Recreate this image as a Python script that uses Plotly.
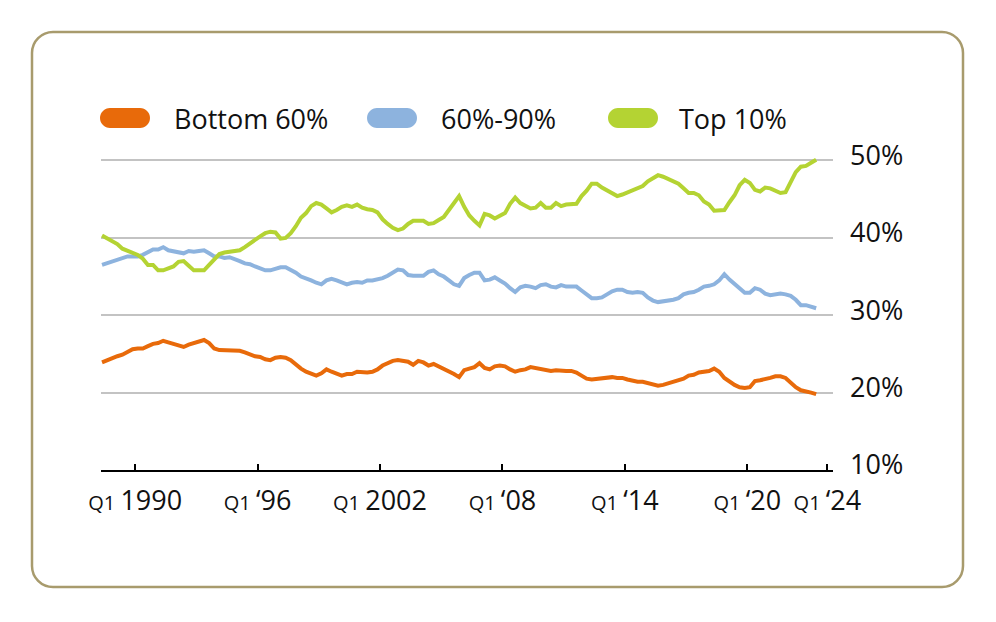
import plotly.graph_objects as go

# Wealth share by percentile group, quarterly, in percent
bottom_60 = [
    23.9, 24.2, 24.4, 24.7, 24.9, 25.2, 25.6, 25.7, 25.7, 26.0,
    26.3, 26.4, 26.7, 26.5, 26.3, 26.1, 25.9, 26.2, 26.4, 26.6,
    26.8, 26.4, 25.7, 25.5, 25.5, 25.4, 25.5, 25.4, 25.2, 24.9,
    24.7, 24.6, 24.3, 24.2, 24.5, 24.6, 24.5, 24.2, 23.6, 23.1,
    22.7, 22.4, 22.2, 22.5, 23.0, 22.7, 22.4, 22.2, 22.4, 22.4,
    22.7, 22.6, 22.6, 22.7, 23.0, 23.5, 23.8, 24.1, 24.2, 24.1,
    24.0, 23.6, 24.1, 23.9, 23.5, 23.7, 23.4, 23.0, 22.7, 22.4,
    22.0, 22.9, 23.1, 23.3, 23.8, 23.2, 23.0, 23.4, 23.5, 23.4,
    23.0, 22.7, 22.9, 23.0, 23.3, 23.2, 23.0, 22.9, 22.8, 22.9,
    22.8, 22.8, 22.8, 22.6, 22.2, 21.8, 21.7, 21.8, 21.8, 21.9,
    22.0, 21.9, 21.9, 21.7, 21.5, 21.4, 21.4, 21.2, 21.0, 20.9,
    21.0, 21.2, 21.5, 21.6, 21.8, 22.2, 22.3, 22.6, 22.7, 22.8,
    23.1, 22.7, 21.9, 21.4, 21.0, 20.7, 20.6, 20.7, 21.5, 21.6,
    21.7, 21.9, 22.1, 22.1, 21.9, 21.3, 20.7, 20.3, 20.2, 20.0, 19.8,
]
mid_60_90 = [
    36.5, 36.7, 37.0, 37.2, 37.3, 37.6, 37.6, 37.6, 37.8, 38.2,
    38.5, 38.5, 38.8, 38.4, 38.3, 38.1, 38.0, 38.3, 38.2, 38.3,
    38.4, 38.0, 37.6, 37.6, 37.4, 37.5, 37.3, 37.0, 36.7, 36.6,
    36.3, 36.1, 35.8, 35.8, 36.0, 36.2, 36.2, 35.9, 35.5, 35.0,
    34.8, 34.5, 34.2, 34.0, 34.5, 34.7, 34.5, 34.2, 34.0, 34.2,
    34.3, 34.2, 34.5, 34.5, 34.6, 34.8, 35.1, 35.5, 35.9, 35.8,
    35.2, 35.1, 35.1, 35.1, 35.6, 35.8, 35.3, 35.0, 34.5, 34.0,
    33.8, 34.8, 35.2, 35.5, 35.5, 34.5, 34.6, 34.9, 34.5, 34.1,
    33.5, 33.0, 33.6, 33.8, 33.7, 33.5, 33.9, 34.0, 33.7, 33.6,
    33.9, 33.7, 33.7, 33.7, 33.2, 32.7, 32.2, 32.2, 32.3, 32.7,
    33.1, 33.3, 33.3, 33.0, 32.9, 33.0, 32.9, 32.3, 31.9, 31.7,
    31.8, 31.8, 32.0, 32.2, 32.7, 32.9, 33.0, 33.3, 33.7, 33.8,
    34.0, 34.5, 35.3, 34.6, 34.0, 33.5, 32.9, 32.9, 33.5, 33.3,
    32.8, 32.6, 32.7, 32.8, 32.7, 32.5, 32.0, 31.3, 31.3, 31.1, 30.9,
]
top_10 = [
    40.3, 39.9, 39.5, 39.2, 38.6, 38.3, 38.1, 37.8, 37.3, 36.5,
    36.5, 35.8, 35.8, 36.1, 36.3, 36.9, 37.0, 36.4, 35.8, 35.8,
    35.8, 36.5, 37.3, 37.9, 38.1, 38.2, 38.2, 38.4, 38.8, 39.3,
    39.8, 40.2, 40.6, 40.8, 40.7, 39.9, 40.0, 40.6, 41.5, 42.6,
    43.2, 44.1, 44.5, 44.3, 43.8, 43.3, 43.6, 44.0, 44.2, 44.0,
    44.3, 43.9, 43.7, 43.6, 43.3, 42.4, 41.8, 41.3, 41.0, 41.2,
    41.8, 42.2, 42.2, 42.2, 41.8, 41.9, 42.3, 42.7, 43.6, 44.4,
    45.4, 44.0, 42.9, 42.2, 41.6, 43.1, 42.9, 42.5, 42.8, 43.2,
    44.4, 45.2, 44.5, 44.2, 43.8, 43.9, 44.5, 43.9, 43.9, 44.5,
    44.1, 44.3, 44.4, 44.4, 45.4, 46.1, 47.0, 47.0, 46.5, 46.1,
    45.8, 45.4, 45.6, 45.9, 46.2, 46.5, 46.7, 47.3, 47.7, 48.1,
    47.9, 47.6, 47.3, 47.0, 46.4, 45.8, 45.8, 45.5, 44.7, 44.3,
    43.5, 43.5, 43.6, 44.6, 45.5, 46.8, 47.5, 47.1, 46.2, 46.0,
    46.5, 46.4, 46.1, 45.8, 45.9, 47.1, 48.5, 49.2, 49.3, 49.7, 50.1,
]

series_names = ["Bottom 60%", "60%-90%", "Top 10%"]
colors = ["#E86A0A", "#8DB3DE", "#B4D333"]

tick_pos = [6.5, 30.5, 54.5, 78.5, 102.5, 126.5, 142.2]
tick_years = ["1990", "‘96", "2002", "‘08", "‘14", "‘20", "‘24"]
y_ticks = [10, 20, 30, 40, 50]

quarters = list(range(len(top_10)))

# page has an 8px body margin, so the figure is drawn 8px smaller/offset
OFF = 8
W, H = 996 - OFF, 622 - OFF
ML, MR, MT, MB = 101 - OFF, 163, 145 - OFF, 152
PW, PH = W - ML - MR, H - MT - MB


def px(x, y):
    # page pixel -> paper coordinates
    return (x - OFF - ML) / PW, (H - MB - (y - OFF)) / PH


def rrect(x0, y0, x1, y1, r):
    k = 0.5523 * r
    pts = [
        ("M", [(x0 + r, y0)]),
        ("L", [(x1 - r, y0)]),
        ("C", [(x1 - r + k, y0), (x1, y0 + r - k), (x1, y0 + r)]),
        ("L", [(x1, y1 - r)]),
        ("C", [(x1, y1 - r + k), (x1 - r + k, y1), (x1 - r, y1)]),
        ("L", [(x0 + r, y1)]),
        ("C", [(x0 + r - k, y1), (x0, y1 - r + k), (x0, y1 - r)]),
        ("L", [(x0, y0 + r)]),
        ("C", [(x0, y0 + r - k), (x0 + r - k, y0), (x0 + r, y0)]),
    ]
    out = ""
    for cmd, ps in pts:
        out += cmd + " " + " ".join("%.5f,%.5f" % px(a, b) for a, b in ps) + " "
    return out + "Z"


fig = go.Figure()
for vals, name, col in zip([bottom_60, mid_60_90, top_10], series_names, colors):
    fig.add_trace(go.Scatter(x=quarters, y=vals, mode="lines", name=name,
                             line=dict(color=col, width=4), showlegend=False))

shapes = [dict(type="path", xref="paper", yref="paper", path=rrect(32, 32, 963, 587, 21),
               line=dict(color="#A89B6D", width=2.5), fillcolor="rgba(0,0,0,0)", layer="below")]
annotations = []
legend_x = [(100, 172), (367, 439), (608, 677)]
for (sx, tx), name, col in zip(legend_x, series_names, colors):
    shapes.append(dict(type="path", xref="paper", yref="paper", path=rrect(sx, 108, sx + 50, 128, 10),
                       line=dict(width=0), fillcolor=col))
    ax, ay = px(tx, 118)
    annotations.append(dict(xref="paper", yref="paper", x=ax, y=ay, xanchor="left", yanchor="middle",
                            text=name, showarrow=False, font=dict(size=27, color="#111111")))

fig.update_layout(
    width=W, height=H, autosize=False,
    margin=dict(l=ML, r=MR, t=MT, b=MB),
    paper_bgcolor="white", plot_bgcolor="white",
    font=dict(family="Open Sans, sans-serif", color="#111111"),
    shapes=shapes, annotations=annotations,
)
fig.update_xaxes(
    range=[-0.2, 143.3], tickmode="array", tickvals=tick_pos,
    ticktext=["<span style='font-size:20px'>Q1 </span>" + t for t in tick_years],
    tickfont=dict(size=27), ticks="inside", ticklen=6, tickwidth=1.5, tickcolor="black",
    showline=True, linecolor="black", linewidth=2, showgrid=False, zeroline=False,
    ticklabelstandoff=6,
)
fig.update_yaxes(
    range=[10, 52], side="right", tickmode="array", tickvals=y_ticks,
    ticktext=["%d%%" % v for v in y_ticks], tickfont=dict(size=27),
    showgrid=True, gridcolor="#C3C3C3", gridwidth=2, zeroline=False, showline=False,
    ticks="", ticklabelstandoff=16, ticklabelshift=-5,
)

fig.write_html("out.html")
